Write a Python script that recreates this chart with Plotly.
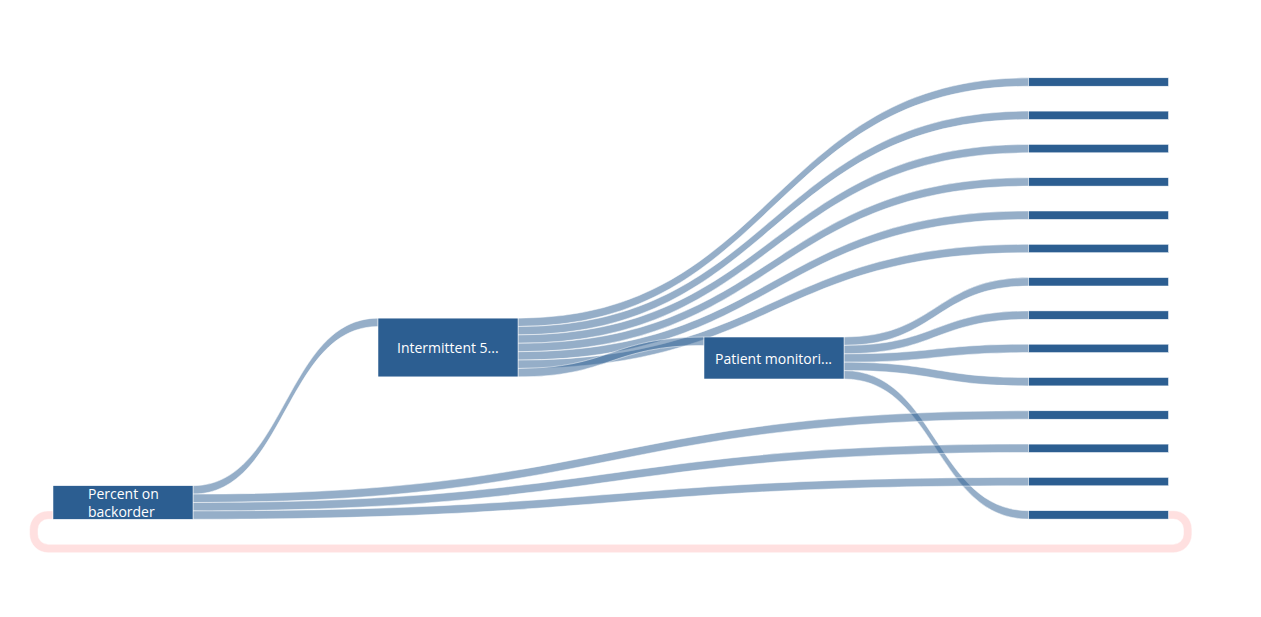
import plotly.graph_objects as go

W, H = 1261, 617
M_T, M_B = 60, 69
PLOT_H = H - M_T - M_B

# Nodes
node_labels = ["Percent on<br>backorder", "Intermittent 5...", "Patient monitori..."] + [""] * 14
node_color = "rgb(44,94,145)"

# Links (source -> target, value)
sources = [0, 1, 1, 1, 1, 1, 1, 1, 2, 2, 2, 2, 2, 0, 0, 0, 16]
targets = [1, 3, 4, 5, 6, 7, 8, 2, 9, 10, 11, 12, 16, 13, 14, 15, 0]
values = [1] * 17
link_colors = ["rgba(44,94,145,0.5)"] * 16 + ["rgba(255,0,0,0.12)"]

# Node layout: desired node centers in figure pixels
col_px = [115, 440, 766, 1090.5]
node_px = [col_px[0], col_px[1], col_px[2]] + [col_px[3]] * 14
node_py = [494.5, 339.5, 350] + [74 + 33.3 * i for i in range(14)]
node_x = [p / W for p in node_px]
node_y = [(p - M_T) / PLOT_H for p in node_py]

fig = go.Figure(go.Sankey(
    arrangement="fixed",
    node=dict(
        label=node_labels,
        color=node_color,
        thickness=140,
        pad=16.5,
        line=dict(color="white", width=0.5),
        x=node_x,
        y=node_y,
    ),
    textfont=dict(color="rgba(0,0,0,0)", size=14, family="Open Sans"),
    link=dict(source=sources, target=targets, value=values, color=link_colors,
              line=dict(color="white", width=0.5)),
))

for i in range(3):
    fig.add_annotation(
        x=node_x[i], y=1 - node_y[i], xref="paper", yref="paper",
        xanchor="center", yanchor="middle", align="left",
        text=node_labels[i], showarrow=False,
        font=dict(color="white", size=14, family="Open Sans"),
    )

fig.update_layout(
    width=W, height=H,
    margin=dict(l=0, r=0, t=M_T, b=M_B),
    paper_bgcolor="white",
    font=dict(family="Open Sans", size=14),
)
fig.write_html("out.html")
